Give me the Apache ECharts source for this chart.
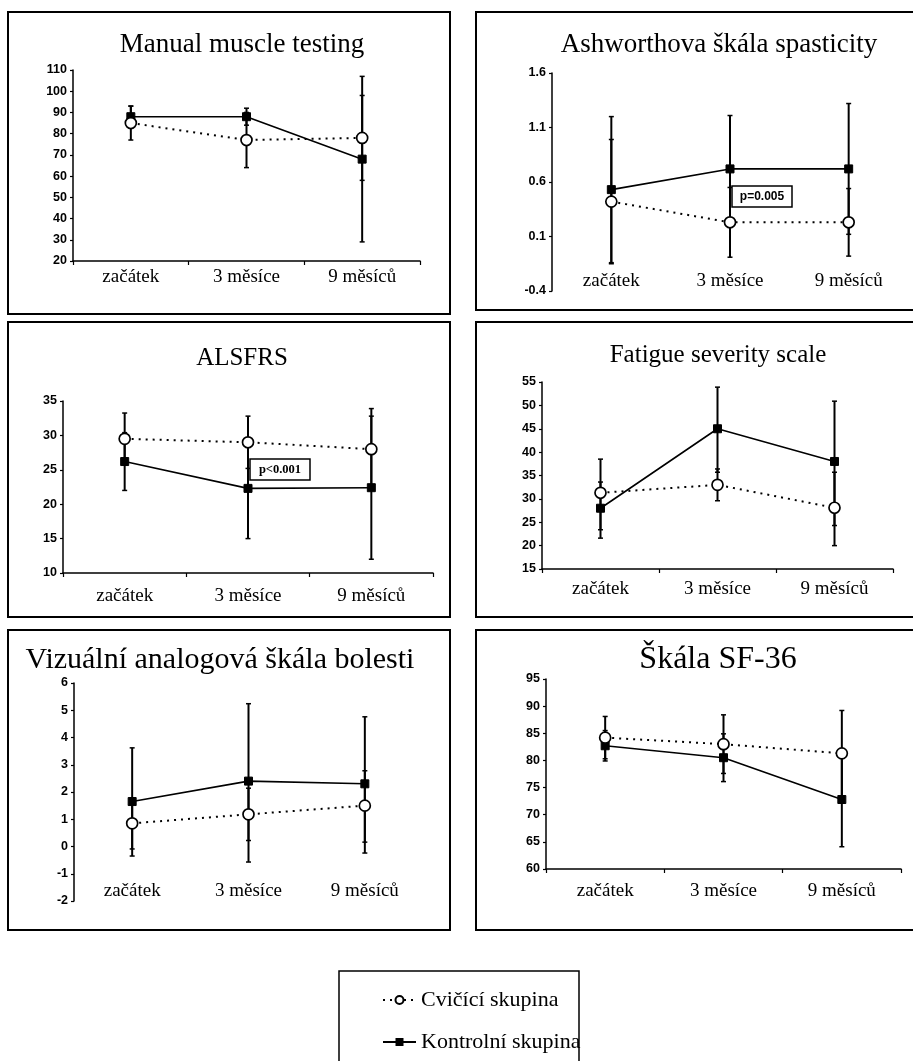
<!DOCTYPE html>
<html>
<head>
<meta charset="utf-8">
<script src="https://cdn.jsdelivr.net/npm/echarts@6/dist/echarts.min.js"></script>
<style>html,body{margin:0;padding:0;background:#fff;}#c{width:913px;height:1061px;}</style>
</head>
<body>
<div id="c"></div>
<script>
// ---------- DATA ----------
const categories = ['začátek', '3 měsíce', '9 měsíců'];
const seriesNames = ['Cvičící skupina', 'Kontrolní skupina'];
const panelTitles = ['Manual muscle testing', 'Ashworthova škála spasticity', 'ALSFRS',
  'Fatigue severity scale', 'Vizuální analogová škála bolesti', 'Škála SF-36'];

// Manual muscle testing
const mmtCvicici = [85, 77, 78];
const mmtKontrolni = [88, 88, 68];
const mmtCviciciErr = [[77, 93], [64, 90], [58, 98]];
const mmtKontrolniErr = [[83, 93], [84, 92], [29, 107]];
// Ashworth
const ashCvicici = [0.42, 0.23, 0.23];
const ashKontrolni = [0.53, 0.72, 0.72];
const ashCviciciErr = [[-0.15, 0.99], [-0.09, 0.55], [-0.08, 0.54]];
const ashKontrolniErr = [[-0.14, 1.2], [0.23, 1.21], [0.12, 1.32]];
// ALSFRS
const alsCvicici = [29.5, 29.0, 28.0];
const alsKontrolni = [26.2, 22.3, 22.4];
const alsCviciciErr = [[25.75, 33.25], [25.2, 32.8], [22.1, 33.9]];
const alsKontrolniErr = [[22.0, 30.4], [15.0, 29.6], [12.0, 32.8]];
// Fatigue severity scale
const fssCvicici = [31.3, 33.0, 28.1];
const fssKontrolni = [28.0, 45.0, 38.0];
const fssCviciciErr = [[23.4, 38.5], [29.6, 36.4], [20.0, 35.7]];
const fssKontrolniErr = [[21.6, 33.6], [35.7, 53.9], [24.3, 50.9]];
// VAS
const vasCvicici = [0.85, 1.18, 1.5];
const vasKontrolni = [1.65, 2.4, 2.3];
const vasCviciciErr = [[-0.09, 1.79], [0.22, 2.14], [0.16, 2.78]];
const vasKontrolniErr = [[-0.35, 3.62], [-0.57, 5.24], [-0.24, 4.76]];
// SF-36
const sfCvicici = [84.2, 83.0, 81.3];
const sfKontrolni = [82.7, 80.5, 72.8];
const sfCviciciErr = [[80.3, 88.1], [77.6, 88.4], [73.4, 89.2]];
const sfKontrolniErr = [[79.9, 85.5], [76.1, 84.9], [64.1, 81.5]];

// axis ranges: [min, max, interval]
const yRanges = [[20, 110, 10], [-0.4, 1.6, 0.5], [10, 35, 5], [15, 55, 5], [-2, 6, 1], [60, 95, 5]];
const pValueLabels = ['p=0.005', 'p<0.001'];

// ---------- LAYOUT ----------
const panels = [
  {c: mmtCvicici, k: mmtKontrolni, ce: mmtCviciciErr, ke: mmtKontrolniErr},
  {c: ashCvicici, k: ashKontrolni, ce: ashCviciciErr, ke: ashKontrolniErr},
  {c: alsCvicici, k: alsKontrolni, ce: alsCviciciErr, ke: alsKontrolniErr},
  {c: fssCvicici, k: fssKontrolni, ce: fssCviciciErr, ke: fssKontrolniErr},
  {c: vasCvicici, k: vasKontrolni, ce: vasCviciciErr, ke: vasKontrolniErr},
  {c: sfCvicici, k: sfKontrolni, ce: sfCviciciErr, ke: sfKontrolniErr}
];
const grids = [
  {left: 73, top: 70, width: 347, height: 191},
  {left: 552, top: 73, width: 356, height: 218},
  {left: 63, top: 401, width: 370, height: 172},
  {left: 542, top: 382, width: 351, height: 187},
  {left: 74, top: 683, width: 349, height: 218},
  {left: 546, top: 679, width: 355, height: 190}
];
const showXLine = [true, false, true, true, false, true];
const xLabelMargin = [7, -19, 14, 11, -19, 13];
const boxes = [
  [8, 12, 442, 302], [476, 12, 445, 298], [8, 322, 442, 295],
  [476, 322, 445, 295], [8, 630, 442, 300], [476, 630, 445, 300]
];
const titlePos = [[242, 45], [719, 45], [242, 358], [718, 355], [220, 660], [718, 660]];
const titleSize = [27, 27, 25, 25, 30, 32];

const serif = 'Liberation Serif';
const sans = 'Liberation Sans';

function errSeries(i, data, z) {
  return {
    type: 'custom', xAxisIndex: i, yAxisIndex: i, z: z, silent: true,
    data: data.map((d, j) => [j, d[0], d[1]]),
    renderItem: function (params, api) {
      const lo = api.coord([api.value(0), api.value(1)]);
      const hi = api.coord([api.value(0), api.value(2)]);
      const cw = 2.5;
      return {
        type: 'group',
        children: [
          {type: 'line', shape: {x1: lo[0], y1: lo[1], x2: hi[0], y2: hi[1]}, style: {stroke: '#000', lineWidth: 2}},
          {type: 'line', shape: {x1: lo[0] - cw, y1: lo[1], x2: lo[0] + cw, y2: lo[1]}, style: {stroke: '#000', lineWidth: 1.5}},
          {type: 'line', shape: {x1: hi[0] - cw, y1: hi[1], x2: hi[0] + cw, y2: hi[1]}, style: {stroke: '#000', lineWidth: 1.5}}
        ]
      };
    }
  };
}

const xAxes = [], yAxes = [], series = [];
panels.forEach((p, i) => {
  xAxes.push({
    type: 'category', gridIndex: i, data: categories, boundaryGap: true,
    axisLine: {show: showXLine[i], lineStyle: {color: '#000', width: 1.5}},
    axisTick: {show: showXLine[i], length: 4, lineStyle: {color: '#000', width: 1.2}},
    axisLabel: {margin: xLabelMargin[i], color: '#000', fontFamily: serif, fontSize: 19},
    splitLine: {show: false}
  });
  const r = yRanges[i];
  yAxes.push({
    type: 'value', gridIndex: i, min: r[0], max: r[1], interval: r[2],
    axisLine: {show: true, lineStyle: {color: '#000', width: 1.5}},
    axisTick: {show: true, length: 3, lineStyle: {color: '#000', width: 1.2}},
    axisLabel: {color: '#000', fontFamily: sans, fontWeight: 'bold', fontSize: 12.5, margin: 6,
      formatter: v => (r[2] < 1 ? v.toFixed(1) : String(Math.round(v)))},
    splitLine: {show: false}
  });
  series.push(errSeries(i, p.ke, 2));
  series.push(errSeries(i, p.ce, 2));
  series.push({
    name: seriesNames[1], type: 'line', xAxisIndex: i, yAxisIndex: i, data: p.k, z: 4,
    symbol: 'rect', symbolSize: 8, showAllSymbol: true,
    lineStyle: {color: '#000', width: 1.6, type: 'solid'},
    itemStyle: {color: '#000', borderColor: '#000'}, emphasis: {disabled: true}
  });
  series.push({
    name: seriesNames[0], type: 'line', xAxisIndex: i, yAxisIndex: i, data: p.c, z: 5,
    symbol: 'circle', symbolSize: 11, showAllSymbol: true,
    lineStyle: {color: '#000', width: 2, type: [2, 5]},
    itemStyle: {color: '#fff', borderColor: '#000', borderWidth: 1.7}, emphasis: {disabled: true}
  });
});

const graphics = [];
boxes.forEach(b => graphics.push({
  type: 'rect', shape: {x: b[0], y: b[1], width: b[2], height: b[3]}, z: 0,
  style: {fill: null, stroke: '#000', lineWidth: 2}
}));
panelTitles.forEach((t, i) => graphics.push({
  type: 'text', x: titlePos[i][0], y: titlePos[i][1], z: 10,
  style: {text: t, fontFamily: serif, fontSize: titleSize[i], fill: '#000', align: 'center', verticalAlign: 'middle'}
}));
// p-value annotation boxes
graphics.push({type: 'rect', shape: {x: 732, y: 186, width: 60, height: 21}, z: 6, style: {fill: '#fff', stroke: '#000', lineWidth: 1.5}});
graphics.push({type: 'text', x: 762, y: 197, z: 7, style: {text: pValueLabels[0], fontFamily: sans, fontWeight: 'bold', fontSize: 12, fill: '#000', align: 'center', verticalAlign: 'middle'}});
graphics.push({type: 'rect', shape: {x: 250, y: 459, width: 60, height: 21}, z: 6, style: {fill: '#fff', stroke: '#000', lineWidth: 1.5}});
graphics.push({type: 'text', x: 280, y: 470, z: 7, style: {text: pValueLabels[1], fontFamily: serif, fontWeight: 'bold', fontSize: 12.5, fill: '#000', align: 'center', verticalAlign: 'middle'}});
// legend frame
graphics.push({type: 'rect', shape: {x: 339, y: 971, width: 240, height: 100}, z: 0, style: {fill: null, stroke: '#000', lineWidth: 1.5}});

const chart = echarts.init(document.getElementById('c'), null, {renderer: 'canvas'});
chart.setOption({
  animation: false,
  backgroundColor: '#fff',
  grid: grids.map(g => Object.assign({containLabel: false}, g)),
  xAxis: xAxes,
  yAxis: yAxes,
  series: series,
  legend: {
    data: seriesNames, orient: 'vertical', left: 382, top: 989, itemGap: 20, padding: 0,
    itemWidth: 33, itemHeight: 10, selectedMode: false,
    textStyle: {fontFamily: serif, fontSize: 22, color: '#000'}
  },
  graphic: graphics
});
</script>
</body>
</html>
